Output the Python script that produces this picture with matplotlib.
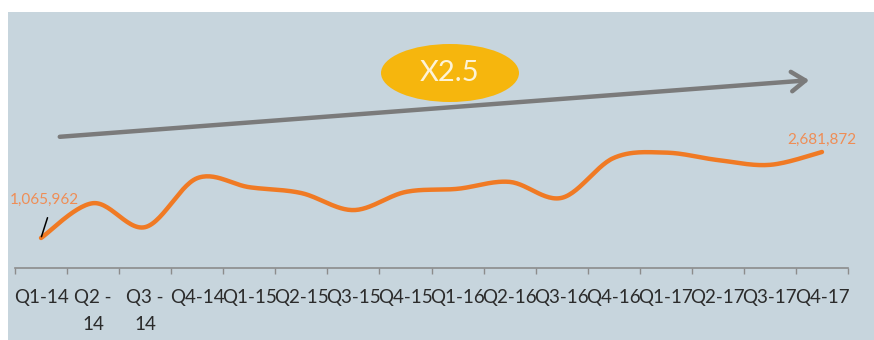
import numpy as np
import matplotlib.pyplot as plt
from matplotlib.patches import Rectangle, Ellipse, FancyArrowPatch

# quarterly figures
quarters = ['Q1-14', 'Q2 -\n14', 'Q3 -\n14', 'Q4-14', 'Q1-15', 'Q2-15', 'Q3-15', 'Q4-15',
            'Q1-16', 'Q2-16', 'Q3-16', 'Q4-16', 'Q1-17', 'Q2-17', 'Q3-17', 'Q4-17']
values = [1065962, 1720000, 1270000, 2190000, 2020000, 1910000, 1590000, 1930000,
          1990000, 2120000, 1820000, 2570000, 2670000, 2530000, 2440000, 2681872]
growth_label = 'X2.5'

W, H = 874, 340
bg = '#c7d5dd'
orange = '#f07a24'
label_orange = '#ef8d55'

plt.rcParams['font.family'] = ['Lato', 'DejaVu Sans']


def smooth(x, y, n=30):
    # Catmull-Rom style smoothing, like a spreadsheet "smoothed line"
    x = np.asarray(x, float)
    y = np.asarray(y, float)
    px = np.concatenate([[x[0]], x, [x[-1]]])
    py = np.concatenate([[y[0]], y, [y[-1]]])
    xs, ys = [], []
    for i in range(1, len(px) - 2):
        p0, p1, p2, p3 = (np.array([px[j], py[j]]) for j in range(i - 1, i + 3))
        c1 = p1 + (p2 - p0) / 6
        c2 = p2 - (p3 - p1) / 6
        t = np.linspace(0, 1, n)[:, None]
        pts = (1 - t) ** 3 * p1 + 3 * (1 - t) ** 2 * t * c1 + 3 * (1 - t) * t ** 2 * c2 + t ** 3 * p2
        xs.extend(pts[:, 0])
        ys.extend(pts[:, 1])
    return np.array(xs), np.array(ys)


fig = plt.figure(figsize=(W / 100, H / 100), dpi=100)
fig.patch.set_facecolor('white')
fig.patches.append(Rectangle((8 / W, 0), 1, (H - 12) / H, transform=fig.transFigure,
                             facecolor=bg, edgecolor='none', zorder=-10))

ax = fig.add_axes([15 / W, (H - 268) / H, (848 - 15) / W, (268 - 12) / H])
ax.set_zorder(1)
ax.set_facecolor('none')
x = np.arange(len(quarters))
sx, sy = smooth(x, values)
ax.plot(sx, sy, color=orange, lw=3.2, solid_capstyle='round', zorder=3)

ax.set_xlim(-0.5, len(quarters) - 0.5)
ax.set_ylim(502000, 5312000)
for s in ['top', 'right', 'left']:
    ax.spines[s].set_visible(False)
ax.spines['bottom'].set_color('#8c8c8c')
ax.spines['bottom'].set_linewidth(1.2)
ax.set_yticks([])
ax.set_xticks(np.arange(-0.5, len(quarters)), labels=[''] * (len(quarters) + 1))
ax.tick_params(axis='x', which='major', length=4, width=1, color='#8c8c8c', direction='out')
ax.set_xticks(x, labels=quarters, minor=True)
ax.tick_params(axis='x', which='minor', length=0, pad=15, labelsize=13.5, labelcolor='#2b2b2b')
for t in ax.get_xticklabels(minor=True):
    t.set_linespacing(1.75)

# value labels at both ends
ax.annotate(f'{values[0]:,}', xy=(x[0], values[0]), xytext=(3, 38), textcoords='offset pixels',
            ha='center', va='center', color=label_orange, fontsize=11,
            arrowprops=dict(arrowstyle='-', color='black', lw=1.1, relpos=(0.6, 0),
                            shrinkA=6, shrinkB=1))
ax.annotate(f'{values[-1]:,}', xy=(x[-1], values[-1]), xytext=(0, 12), textcoords='offset pixels',
            ha='center', va='center', color=label_orange, fontsize=11)

# growth arrow and badge
fig.add_artist(FancyArrowPatch(
    (57 / W, 1 - 137 / H), (812 / W, 1 - 80 / H), transform=fig.transFigure,
    arrowstyle='->,head_length=10,head_width=7', color='#7b7b7b', lw=3.2, zorder=4))
fig.patches.append(Ellipse((450 / W, 1 - 73 / H), 138 / W, 58 / H, transform=fig.transFigure,
                           facecolor='#f6b60d', edgecolor='none', zorder=5))
fig.text(450 / W, 1 - 73 / H, growth_label, ha='center', va='center', fontsize=21,
         color='#fdf3d6', zorder=6)

fig.savefig('out.png', dpi=100, facecolor=fig.get_facecolor())
